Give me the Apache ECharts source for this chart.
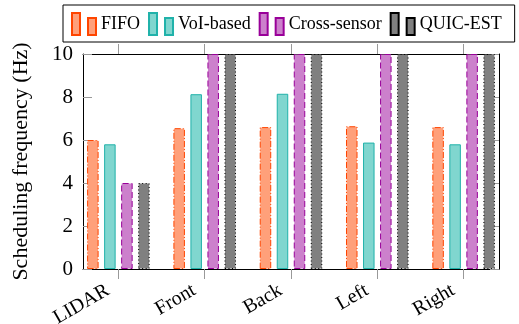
<!DOCTYPE html>
<html><head><meta charset="utf-8">
<script src="https://cdn.jsdelivr.net/npm/echarts@6/dist/echarts.min.js"></script>
<style>html,body{margin:0;padding:0;background:#fff}#c{width:519px;height:324px}</style>
</head><body><div id="c"></div>
<script>
var categories = ['LIDAR', 'Front', 'Back', 'Left', 'Right'];
var fifo = [6.0, 6.55, 6.6, 6.64, 6.6];
var voi = [5.8, 8.13, 8.15, 5.88, 5.8];
var cross = [4.0, 10, 10, 10, 10];
var quic = [4.0, 10, 10, 10, 10];
var yTicks = [0, 2, 4, 6, 8, 10];

var font = "'Liberation Serif', 'DejaVu Serif', serif";
function pts(arr){ return arr.map(function(v,i){ return [i, v]; }); }
var catIdx = categories.map(function(_, i){ return i; });
var legendIcon = 'path://M0,0 h8 v22 h-8 Z M16,5 h8 v17 h-8 Z';

var chart = echarts.init(document.getElementById('c'), null, {renderer:'canvas'});
function bar(name, data, fill, border, dash){
  return {
    name: name, type: 'bar', data: pts(data), barWidth: 11.5, barGap: '48%',
    itemStyle: { color: fill, borderColor: border, borderWidth: 1, borderType: dash },
    emphasis: { disabled: true }
  };
}
chart.setOption({
  animation: false,
  legend: {
    left: 63, top: 5, padding: [7, 13, 6, 8],
    borderColor: '#000', borderWidth: 1, itemGap: 8,
    itemWidth: 24, itemHeight: 22, icon: legendIcon,
    textStyle: { fontFamily: font, fontSize: 18, color: '#000' }
  },
  grid: { left: 83, right: 20, top: 54, bottom: 55, containLabel: false, outerBoundsMode: 'none' },
  xAxis: [{
    type: 'value', min: -0.41, max: 4.41, position: 'bottom',
    splitLine: { show: false },
    axisLine: { onZero: false, lineStyle: { color: '#000', width: 1 } },
    axisTick: { customValues: catIdx, length: 10, lineStyle: { color: '#999' } },
    axisLabel: { customValues: catIdx, rotate: 30, margin: 14, padding: [0, 12, 0, 0],
      formatter: function(v){ return categories[Math.round(v)]; },
      fontFamily: font, fontSize: 20, color: '#000' }
  }, {
    type: 'value', min: -0.41, max: 4.41, position: 'top',
    splitLine: { show: false },
    axisLine: { onZero: false, lineStyle: { color: '#000', width: 1 } },
    axisTick: { customValues: catIdx, length: 10, lineStyle: { color: '#999' } },
    axisLabel: { show: false }
  }],
  yAxis: [{
    type: 'value', min: 0, max: 10, interval: 2, position: 'left',
    name: 'Scheduling frequency (Hz)', nameLocation: 'middle', nameGap: 51,
    nameTextStyle: { fontFamily: font, fontSize: 22, color: '#000' },
    splitLine: { show: false },
    axisLine: { show: true, onZero: false, lineStyle: { color: '#000', width: 1 } },
    axisTick: { inside: true, length: 9, lineStyle: { color: '#999' } },
    axisLabel: { margin: 10, fontFamily: font, fontSize: 21, color: '#000',
      formatter: function(v){ return yTicks.indexOf(v) >= 0 ? String(v) : ''; } }
  }, {
    type: 'value', min: 0, max: 10, interval: 2, position: 'right',
    splitLine: { show: false },
    axisLine: { show: true, onZero: false, lineStyle: { color: '#000', width: 1 } },
    axisTick: { inside: true, length: 9, lineStyle: { color: '#999' } },
    axisLabel: { show: false }
  }],
  series: [
    bar('FIFO', fifo, '#ffa07a', '#ff4500', [6, 2, 1, 2]),
    bar('VoI-based', voi, '#80d6cf', '#20b2aa', 'solid'),
    bar('Cross-sensor', cross, '#cc80cc', '#990099', [6, 3]),
    bar('QUIC-EST', quic, '#808080', '#000000', [1, 2.5])
  ]
});
</script></body></html>
